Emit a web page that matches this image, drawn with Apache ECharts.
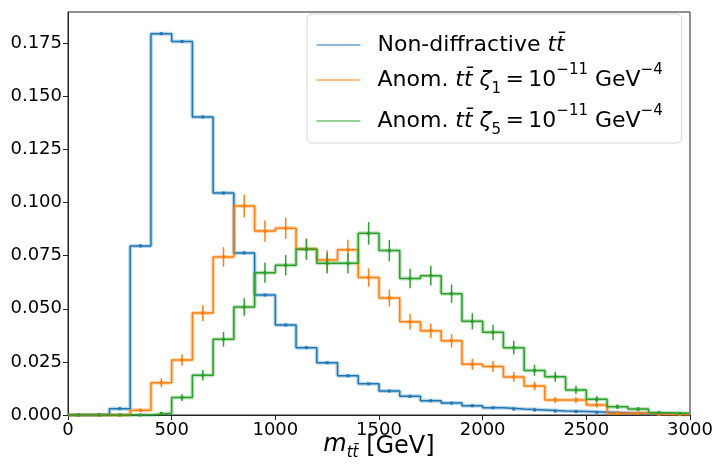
<!DOCTYPE html>
<html>
<head>
<meta charset="utf-8">
<script src="https://cdn.jsdelivr.net/npm/echarts@6/dist/echarts.min.js"></script>
<style>html,body{margin:0;padding:0;background:#fff}#c{width:714px;height:464px}</style>
</head>
<body>
<div id="c"></div>
<script>
// Bin edges (GeV)
const binEdges = [0,100,200,300,400,500,600,700,800,900,1000,1100,1200,1300,1400,1500,1600,1700,1800,1900,2000,2100,2200,2300,2400,2500,2600,2700,2800,2900,3000];
const xTicks = [0,500,1000,1500,2000,2500,3000];
const yTicks = [0,0.025,0.05,0.075,0.1,0.125,0.15,0.175];

// Normalised bin contents
const nonDiff = [0,0.0002,0.003,0.0796,0.1795,0.1758,0.1403,0.1045,0.0763,0.0565,0.0424,0.0317,0.0246,0.0185,0.0147,0.0113,0.0088,0.0067,0.0056,0.0044,0.0034,0.0028,0.0024,0.0019,0.0016,0.0013,0.0009,0.0007,0.0005,0.0004];
const nonDiffErr = [0,0.0001,0.0001,0.0003,0.0005,0.0005,0.0004,0.0004,0.0003,0.0003,0.0002,0.0002,0.0002,0.0002,0.0001,0.0001,0.0001,0.0001,0.0001,0.0001,0.0001,0.0001,0.0001,0.0001,0,0,0,0,0,0];
const zeta1 = [0,0,0,0.0022,0.0152,0.0259,0.048,0.0744,0.0984,0.0866,0.0879,0.0782,0.073,0.0778,0.0647,0.0551,0.0439,0.0397,0.035,0.0239,0.0228,0.0179,0.0137,0.0071,0.0071,0.0047,0.0008,0.0008,0.0003,0.0002];
const zeta1Err = [0,0,0,0.0008,0.0021,0.0027,0.0037,0.0046,0.0053,0.005,0.005,0.0048,0.0046,0.0047,0.0043,0.004,0.0036,0.0034,0.0032,0.0026,0.0026,0.0023,0.002,0.0014,0.0014,0.0012,0.0005,0.0005,0.0003,0.0002];
const zeta5 = [0,0,0,0,0.0008,0.0082,0.0187,0.0356,0.0508,0.067,0.0705,0.078,0.0714,0.0714,0.0855,0.0774,0.0643,0.0656,0.0571,0.0441,0.0389,0.0317,0.021,0.018,0.0118,0.0074,0.0039,0.0028,0.0011,0.0007];
const zeta5Err = [0,0,0,0,0.0005,0.0016,0.0025,0.0034,0.0041,0.0047,0.0048,0.005,0.0048,0.0048,0.0053,0.005,0.0046,0.0046,0.0043,0.0038,0.0036,0.0032,0.0026,0.0024,0.002,0.0015,0.0011,0.0009,0.0006,0.0005];

const colors = ['#1f77b4','#ff7f0e','#2ca02c'];
const names = ['nd','z1','z5'];
const legendLabels = {
  nd: 'Non-diffractive {i|tt\u0304}',
  z1: 'Anom. {i|tt\u0304} {i|\u03b6}{sb|1}{t|\u2009=\u200910}{sp|\u221211}{t| GeV}{sp|\u22124}',
  z5: 'Anom. {i|tt\u0304} {i|\u03b6}{sb|5}{t|\u2009=\u200910}{sp|\u221211}{t| GeV}{sp|\u22124}'
};

function stepData(vals){
  return binEdges.map((x,i)=>[x, vals[Math.min(i, vals.length-1)]]);
}
function errData(vals, errs){
  return vals.map((v,i)=>[(binEdges[i]+binEdges[i+1])/2, v, errs[i]]);
}
function errSeries(vals, errs, color){
  return {
    type:'custom', silent:true, z:5,
    data: errData(vals, errs),
    encode:{x:0,y:1},
    renderItem:function(params, api){
      const x = api.value(0), v = api.value(1), e = api.value(2);
      const p0 = api.coord([x, v-e]);
      const p1 = api.coord([x, v+e]);
      const pc = api.coord([x, v]);
      return {type:'group', children:[
        {type:'line', shape:{x1:p0[0],y1:p0[1],x2:p1[0],y2:p1[1]}, style:{stroke:color, lineWidth:1.5}},
        {type:'rect', shape:{x:pc[0]-1.5,y:pc[1]-1.5,width:3,height:3}, style:{fill:color}}
      ]};
    }
  };
}
function haloSeries(vals, color){
  return {type:'line', step:'end', data:stepData(vals), symbol:'none', silent:true, z:1,
    lineStyle:{color:color, width:4, opacity:0.3}};
}
function mainSeries(name, vals, color){
  return {name:name, type:'line', step:'end', data:stepData(vals), symbol:'none', z:3,
    itemStyle:{color:color},
    lineStyle:{color:color, width:1.5}};
}

const chart = echarts.init(document.getElementById('c'), null, {renderer:'canvas'});
const F = 'DejaVu Sans';
chart.setOption({
  animation:false,
  backgroundColor:'#fff',
  grid:{left:68, right:24, top:12, bottom:49, containLabel:false, outerBoundsMode:'none',
    show:true, borderColor:'#222', borderWidth:1, backgroundColor:'transparent'},
  xAxis:{
    type:'value', min:0, max:3000, interval:500,
    axisLine:{show:true, onZero:false, lineStyle:{color:'#222'}},
    axisTick:{show:true, length:5, lineStyle:{color:'#222'}},
    splitLine:{show:false},
    axisLabel:{fontFamily:F, fontSize:18, color:'#000', margin:6,
      formatter:function(v){ return xTicks.indexOf(v)>=0 ? String(v) : ''; }},
    name:'{i|m}{sb|tt\u0304} [GeV]', nameLocation:'middle', nameGap:18, nameMoveOverlap:false,
    nameTextStyle:{fontFamily:F, fontSize:24, color:'#000', verticalAlign:'top',
      rich:{i:{fontFamily:F, fontStyle:'italic', fontSize:24, color:'#000', lineHeight:28, verticalAlign:'top'},
            sb:{fontFamily:F, fontStyle:'italic', fontSize:15, color:'#000', lineHeight:22, verticalAlign:'bottom'}}}
  },
  yAxis:{
    type:'value', min:0, max:0.1897, interval:0.025,
    axisLine:{show:true, lineStyle:{color:'#222'}},
    axisTick:{show:true, length:5, lineStyle:{color:'#222'}},
    splitLine:{show:false},
    axisLabel:{fontFamily:F, fontSize:18, color:'#000', margin:6, showMaxLabel:false,
      formatter:function(v){ return v.toFixed(3); }}
  },
  legend:{
    orient:'vertical', left:307, top:14, width:373,
    data:names, selectedMode:false,
    itemWidth:44, itemHeight:10, itemGap:7,
    padding:[20,19,5,9],
    borderColor:'#d6d6d6', borderWidth:1, borderRadius:5, backgroundColor:'rgba(255,255,255,0.8)',
    formatter:function(n){ return legendLabels[n]; },
    textStyle:{fontFamily:F, fontSize:22, color:'#000', padding:[0,0,0,12],
      rich:{
        t:{fontFamily:F, fontSize:22, color:'#000', lineHeight:28},
        i:{fontFamily:F, fontStyle:'italic', fontSize:22, color:'#000', lineHeight:28},
        sb:{fontFamily:F, fontSize:15, color:'#000', lineHeight:20, verticalAlign:'bottom'},
        sp:{fontFamily:F, fontSize:15, color:'#000', lineHeight:34, verticalAlign:'top'}
      }},
    lineStyle:{width:1},
    itemStyle:{opacity:0}
  },
  series:[
    haloSeries(nonDiff, colors[0]),
    haloSeries(zeta1, colors[1]),
    haloSeries(zeta5, colors[2]),
    mainSeries('nd', nonDiff, colors[0]),
    mainSeries('z1', zeta1, colors[1]),
    mainSeries('z5', zeta5, colors[2]),
    errSeries(nonDiff, nonDiffErr, colors[0]),
    errSeries(zeta1, zeta1Err, colors[1]),
    errSeries(zeta5, zeta5Err, colors[2])
  ]
});
</script>
</body>
</html>
